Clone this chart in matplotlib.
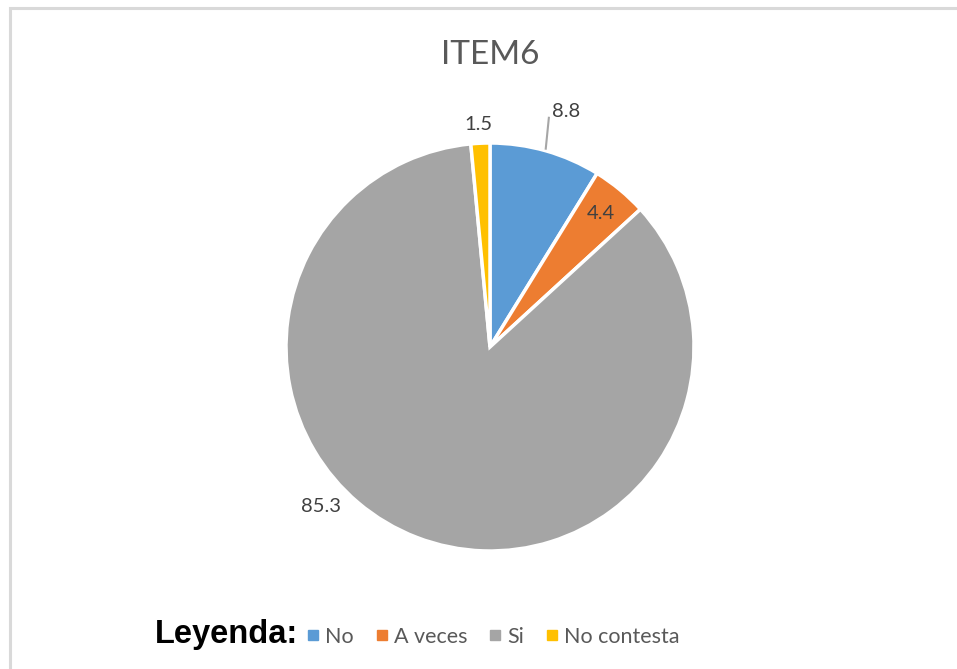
import matplotlib
matplotlib.use("Agg")
import matplotlib.pyplot as plt
from matplotlib.patches import Rectangle
from matplotlib.lines import Line2D
import numpy as np

categories = ["No", "A veces", "Si", "No contesta"]
values = [8.8, 4.4, 85.3, 1.5]
value_labels = ["8.8", "4.4", "85.3", "1.5"]
colors = ["#5b9bd5", "#ed7d31", "#a5a5a5", "#ffc000"]
title = "ITEM6"

W, H = 957, 669
fig = plt.figure(figsize=(W / 100, H / 100), dpi=100)
fig.patch.set_facecolor("white")

# chart frame
fig.patches.append(Rectangle((10 / W, -0.05), 1.2, 1 - 8 / H + 0.05, transform=fig.transFigure,
                             fill=False, edgecolor="#d9d9d9", linewidth=2.2))

cx, cy, r = 490, 347, 204
ax = fig.add_axes([(cx - r) / W, 1 - (cy + r) / H, 2 * r / W, 2 * r / H])
wedges, _ = ax.pie(values, colors=colors, startangle=90, counterclock=False,
                   wedgeprops=dict(edgecolor="white", linewidth=2.5))
ax.set_xlim(-1, 1)
ax.set_ylim(-1, 1)
ax.set_aspect("equal")
ax.axis("off")

# label placement (radius, angle override) per slice
label_style = [(1.215, 72.1), (0.85, None), (1.14, -136.7), (1.09, 93.0)]
for w, lab, (rad, ang) in zip(wedges, value_labels, label_style):
    a = ang if ang is not None else (w.theta1 + w.theta2) / 2
    x, y = rad * np.cos(np.radians(a)), rad * np.sin(np.radians(a))
    ax.text(x, y, lab, ha="center", va="center", fontsize=14.5, color="#404040",
            family="Lato", clip_on=False)

# leader line for first slice
a1 = np.radians(74.3)
a2 = np.radians(75.6)
ax.add_line(Line2D([1.01 * np.cos(a1), 1.16 * np.cos(a2)], [1.01 * np.sin(a1), 1.16 * np.sin(a2)],
                   color="#a6a6a6", linewidth=1.5, clip_on=False))

fig.text(cx / W, 1 - 55 / H, title, ha="center", va="center", fontsize=24,
         color="#595959", family="Lato")

fig.text(155 / W, 1 - 634 / H, "Leyenda:", ha="left", va="center", fontsize=23.5,
         fontweight="bold", family="Liberation Sans", color="black")

handles = [Line2D([], [], marker="s", linestyle="none", markersize=6.5, color=c) for c in colors]
leg = fig.legend(handles, categories, loc="center left", bbox_to_anchor=(308 / W, 1 - 637 / H),
                 ncol=4, frameon=False, handlelength=0.5, handletextpad=0.3, columnspacing=1.05,
                 prop=dict(family="Lato", size=15.5), borderaxespad=0, borderpad=0)
for t in leg.get_texts():
    t.set_color("#595959")

fig.savefig("out.png", dpi=100)
